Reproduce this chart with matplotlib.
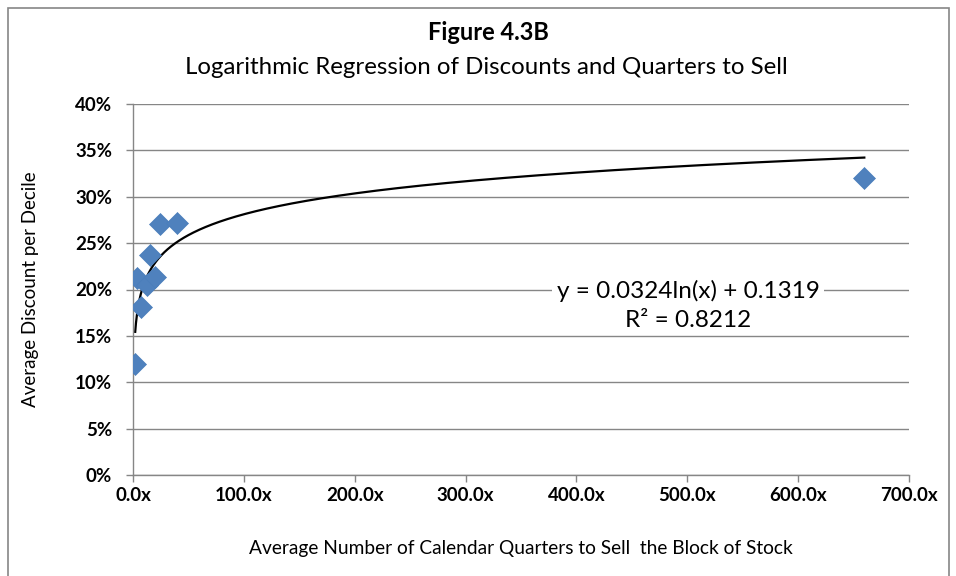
import numpy as np
import matplotlib
matplotlib.use("Agg")
import matplotlib.pyplot as plt
from matplotlib.patches import Rectangle
from matplotlib.ticker import FuncFormatter, MultipleLocator

plt.rcParams['font.family'] = ['Lato', 'DejaVu Sans']

quarters = [2.0, 6.9, 3.9, 12.3, 19.8, 15.3, 24.4, 40.0, 659.7]
discounts = [0.120, 0.181, 0.212, 0.205, 0.214, 0.237, 0.271, 0.272, 0.320]
coef_a = 0.0324
coef_b = 0.1319
eq_text = "y = 0.0324ln(x) + 0.1319\nR² = 0.8212"

W, H = 956, 576
fig = plt.figure(figsize=(W / 100, H / 100), dpi=100)
ax = fig.add_axes([133 / W, 1 - 475 / H, (909 - 133) / W, (475 - 104) / H])

fig.patches.append(Rectangle((8 / W, -0.05), (949 - 8) / W, 1 - 8 / H + 0.05,
                             transform=fig.transFigure, fill=False,
                             edgecolor='#868686', linewidth=1.2))

ax.scatter(quarters, discounts, marker='D', s=125, color='#4F81BD', zorder=3,
           edgecolors='#4A7EBB', linewidths=0.5)

xs = np.linspace(min(quarters), max(quarters), 2000)
ax.plot(xs, coef_a * np.log(xs) + coef_b, color='black', linewidth=1.6, zorder=2)

ax.set_xlim(0, 700)
ax.set_ylim(0, 0.40)
ax.xaxis.set_major_locator(MultipleLocator(100))
ax.yaxis.set_major_locator(MultipleLocator(0.05))
ax.xaxis.set_major_formatter(FuncFormatter(lambda v, p: f"{v:.1f}x"))
ax.yaxis.set_major_formatter(FuncFormatter(lambda v, p: f"{v*100:.0f}%"))

ax.grid(axis='y', color='#868686', linewidth=1.0, zorder=0)
ax.set_axisbelow(True)
for s in ['top', 'right']:
    ax.spines[s].set_visible(False)
for s in ['left', 'bottom']:
    ax.spines[s].set_color('#868686')
    ax.spines[s].set_linewidth(1.0)
ax.tick_params(axis='both', colors='#868686', length=5, width=1.0, labelcolor='black')
ax.tick_params(axis='y', pad=10)
for lbl in ax.get_xticklabels() + ax.get_yticklabels():
    lbl.set_fontweight('bold')
    lbl.set_fontsize(13.5)

ax.set_xlabel("Average Number of Calendar Quarters to Sell  the Block of Stock",
              fontsize=13.8, labelpad=26)
ax.set_ylabel("Average Discount per Decile", fontsize=13.5, labelpad=26)

fig.text(488 / W, 1 - 33 / H, "Figure 4.3B", ha='center', va='center',
         fontsize=17, fontweight='bold')
fig.text(486 / W, 1 - 67 / H, "Logarithmic Regression of Discounts and Quarters to Sell",
         ha='center', va='center', fontsize=17.3)

ax.text(500.6, 0.1825, eq_text, ha='center', va='center', fontsize=17.5,
        linespacing=1.45, zorder=4,
        bbox=dict(facecolor='white', edgecolor='none', pad=3))

fig.savefig("out.png", dpi=100)
